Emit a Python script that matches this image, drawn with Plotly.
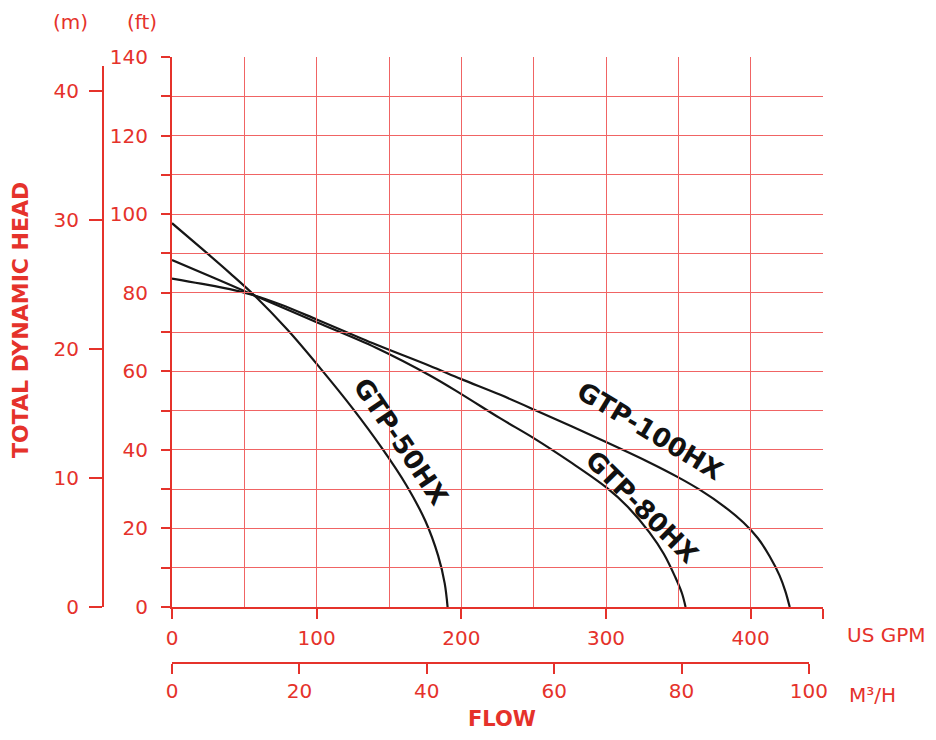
import plotly.graph_objects as go

# ---------------- data ----------------
gtp50_gpm = [0, 20, 40, 57, 80, 102, 125, 145, 162, 175, 184, 188.5, 190.5]
gtp50_ft = [97.7, 91.4, 85.0, 79.3, 70.5, 61.0, 50.5, 40.5, 31.0, 22.0, 13.0, 6.0, 0.0]

gtp80_gpm = [0, 30, 57, 100, 141, 178, 200, 227, 250, 275, 300, 315, 330, 340, 348, 352.5, 355]
gtp80_ft = [88.3, 83.6, 79.3, 72.5, 66.0, 59.0, 54.2, 48.0, 43.0, 37.0, 30.5, 25.5, 19.0, 13.5, 7.5, 3.5, 0.0]

gtp100_gpm = [0, 20, 40, 57, 75, 100, 141, 178, 200, 227, 250, 300, 330, 350, 365, 382, 395, 405, 413, 420, 424, 427]
gtp100_ft = [83.6, 82.3, 80.9, 79.3, 77.0, 73.2, 66.8, 61.4, 58.0, 54.0, 50.3, 42.0, 36.8, 33.0, 29.8, 25.5, 21.5, 17.5, 13.0, 8.0, 4.0, 0.0]

model_names = ["GTP-50HX", "GTP-80HX", "GTP-100HX"]
label_gpm = [158.6, 324.9, 330.4]
label_ft = [42.1, 25.5, 44.8]
label_angle = [56, 45, 31]

gpm_ticks = [0, 100, 200, 300, 400, 450]
gpm_ticktext = ["0", "100", "200", "300", "400", ""]
m3h_ticks = [0, 20, 40, 60, 80, 100]
ft_ticks = [0, 20, 40, 60, 80, 100, 120, 140]
m_ticks = [0, 10, 20, 30, 40]

GPM_PER_M3H = 4.40287
FT_PER_M = 3.28084

# ---------------- layout geometry (screen pixels of the reference) ----------------
OFF = 8                      # page body margin
W, H = 936 - 2 * OFF, 740 - 2 * OFF
ML, MR, MT, MB = 50, 105, 49, 50
PW, PH = W - ML - MR, H - MT - MB

def pxx(sx):
    return (sx - OFF - ML) / PW

def pxy(sy):
    return (H - MB - (sy - OFF)) / PH

X0_PX, X1_PX = 172, 823
Y0_PX, Y1_PX = 607, 57
GPM_MAX, FT_MAX = 450, 140
px_per_gpm = (X1_PX - X0_PX) / GPM_MAX
px_per_ft = (Y0_PX - Y1_PX) / FT_MAX

RED = "#E5322B"
GRID = "#F06464"
FONT = "DejaVu Sans"

fig = go.Figure()
for gx, gy in [(gtp50_gpm, gtp50_ft), (gtp80_gpm, gtp80_ft), (gtp100_gpm, gtp100_ft)]:
    fig.add_trace(go.Scatter(x=gx, y=gy, mode="lines",
                             line=dict(color="#161616", width=2.2, shape="spline", smoothing=1.0),
                             showlegend=False, hoverinfo="skip"))

# invisible traces to activate the secondary scales
fig.add_trace(go.Scatter(x=[None], y=[None], xaxis="x2", yaxis="y", showlegend=False, hoverinfo="skip"))
fig.add_trace(go.Scatter(x=[None], y=[None], xaxis="x", yaxis="y2", showlegend=False, hoverinfo="skip"))

m3h_end_px = X0_PX + 100 * GPM_PER_M3H * px_per_gpm
m_top_px = 66
m_top_val = (Y0_PX - m_top_px) / px_per_ft / FT_PER_M

tickfont = dict(family=FONT, size=20, color=RED)

fig.update_layout(
    width=W, height=H, margin=dict(l=ML, r=MR, t=MT, b=MB, autoexpand=False),
    paper_bgcolor="white", plot_bgcolor="rgba(0,0,0,0)",
    xaxis=dict(domain=[pxx(X0_PX), pxx(X1_PX)], range=[0, GPM_MAX], anchor="y",
               tickvals=gpm_ticks, ticktext=gpm_ticktext, ticks="outside", ticklen=10,
               tickwidth=2, tickcolor=RED, showline=True, linecolor=RED, linewidth=2,
               showgrid=True, gridcolor=GRID, gridwidth=1.3, zeroline=False, tickfont=tickfont,
               ticklabelstandoff=2, layer="below traces",
               minor=dict(dtick=50, tick0=0, showgrid=True, gridcolor=GRID, gridwidth=1.3, ticks="")),
    yaxis=dict(domain=[pxy(Y0_PX), pxy(Y1_PX)], range=[0, FT_MAX], anchor="x",
               tickvals=ft_ticks, ticks="outside", ticklen=9, tickwidth=2, tickcolor=RED,
               showline=True, linecolor=RED, linewidth=2, showgrid=True, gridcolor=GRID,
               gridwidth=1.3, zeroline=False, tickfont=tickfont, ticklabelstandoff=9,
               minor=dict(dtick=10, tick0=0, showgrid=True, gridcolor=GRID, gridwidth=1.3,
                          ticks="outside", ticklen=9, tickwidth=2, tickcolor=RED)),
    xaxis2=dict(domain=[pxx(X0_PX), pxx(m3h_end_px)], range=[0, 100], anchor="free",
                position=pxy(663), side="bottom", tickvals=m3h_ticks, ticks="outside", ticklen=10,
                tickwidth=2, tickcolor=RED, showline=True, linecolor=RED, linewidth=2,
                showgrid=False, zeroline=False, tickfont=tickfont),
    yaxis2=dict(domain=[pxy(Y0_PX), pxy(m_top_px)], range=[0, m_top_val], anchor="free",
                position=pxx(103), side="left", tickvals=m_ticks, ticks="outside", ticklen=13,
                tickwidth=2, tickcolor=RED, showline=True, linecolor=RED, linewidth=2,
                showgrid=False, zeroline=False, tickfont=tickfont, ticklabelstandoff=6),
)

ann = []
for name, gx, gy, ang in zip(model_names, label_gpm, label_ft, label_angle):
    ann.append(dict(x=gx, y=gy, xref="x", yref="y", text=name, showarrow=False, textangle=ang,
                    font=dict(family=FONT, size=26, color="#111111", weight="bold")))

def txt(sx, sy, text, size=19, bold=False, angle=0):
    return dict(x=pxx(sx), y=pxy(sy), xref="paper", yref="paper", text=text, showarrow=False,
                textangle=angle, xanchor="center", yanchor="middle",
                font=dict(family=FONT, size=size, color=RED, weight="bold" if bold else "normal"))

ann += [
    txt(70, 22, "(m)", 20),
    txt(142, 22, "(ft)", 20),
    txt(21, 320, "TOTAL DYNAMIC HEAD", 22, True, -90),
    txt(886, 635, "US GPM", 20),
    txt(872, 695, "M³/H", 20),
    txt(502, 719, "FLOW", 21, True),
]
fig.update_layout(annotations=ann)

fig.write_html("out.html")
